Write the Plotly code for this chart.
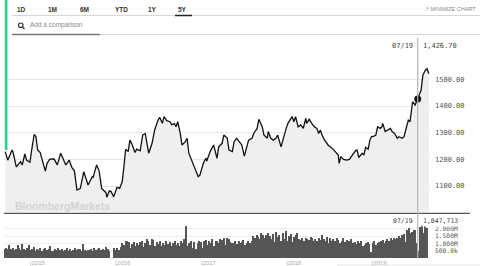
import pandas as pd
import plotly.graph_objects as go

# ---------------- data ----------------
price_years = [
    2014.71, 2014.74, 2014.79, 2014.80, 2014.84, 2014.86, 2014.89, 2014.91, 2014.94, 2014.96,
    2015.00, 2015.02, 2015.05, 2015.07, 2015.09, 2015.12, 2015.14, 2015.18, 2015.20, 2015.23,
    2015.28, 2015.32, 2015.36, 2015.39, 2015.42, 2015.46, 2015.49, 2015.52, 2015.55, 2015.59,
    2015.63, 2015.68, 2015.73, 2015.74, 2015.78, 2015.81, 2015.84, 2015.89, 2015.90, 2015.93,
    2015.95, 2015.98, 2016.02, 2016.05, 2016.08, 2016.10, 2016.12, 2016.15, 2016.17, 2016.19,
    2016.23, 2016.25, 2016.29, 2016.32, 2016.35, 2016.37, 2016.39, 2016.43, 2016.46, 2016.50,
    2016.52, 2016.55, 2016.57, 2016.60, 2016.64, 2016.66, 2016.69, 2016.71, 2016.73, 2016.76,
    2016.78, 2016.82, 2016.84, 2016.86, 2016.90, 2016.93, 2016.97, 2016.99, 2017.03, 2017.06,
    2017.07, 2017.11, 2017.14, 2017.15, 2017.19, 2017.21, 2017.25, 2017.27, 2017.31, 2017.33,
    2017.37, 2017.39, 2017.42, 2017.45, 2017.48, 2017.51, 2017.54, 2017.56, 2017.60, 2017.62,
    2017.66, 2017.68, 2017.72, 2017.74, 2017.78, 2017.79, 2017.82, 2017.85, 2017.88, 2017.90,
    2017.94, 2017.96, 2018.00, 2018.02, 2018.07, 2018.09, 2018.11, 2018.14, 2018.17, 2018.20,
    2018.23, 2018.24, 2018.27, 2018.30, 2018.33, 2018.36, 2018.38, 2018.40, 2018.42, 2018.45,
    2018.49, 2018.54, 2018.57, 2018.61, 2018.62, 2018.64, 2018.67, 2018.71, 2018.74, 2018.77,
    2018.81, 2018.83, 2018.85, 2018.89, 2018.91, 2018.93, 2018.96, 2018.98, 2019.00, 2019.03,
    2019.05, 2019.07, 2019.10, 2019.12, 2019.13, 2019.16, 2019.19, 2019.22, 2019.24, 2019.27,
    2019.30, 2019.32, 2019.36, 2019.38, 2019.40, 2019.43, 2019.45, 2019.47, 2019.48, 2019.51,
    2019.53, 2019.54, 2019.58, 2019.60, 2019.63, 2019.65, 2019.67,
]
price_values = [
    1229, 1197, 1235, 1229, 1172, 1179, 1191, 1179, 1220, 1197,
    1189, 1235, 1294, 1285, 1235, 1225, 1204, 1156, 1185, 1200,
    1202, 1179, 1223, 1197, 1179, 1197, 1170, 1157, 1085, 1091,
    1154, 1104, 1135, 1133, 1179, 1156, 1091, 1075, 1058, 1082,
    1079, 1060, 1095, 1091, 1116, 1172, 1238, 1229, 1272, 1260,
    1226, 1238, 1232, 1291, 1297, 1260, 1223, 1260, 1310, 1347,
    1357, 1335, 1360, 1345, 1341, 1329, 1335, 1322, 1341, 1297,
    1254, 1266, 1279, 1223, 1191, 1172, 1135, 1141, 1185, 1204,
    1194, 1229, 1245, 1254, 1204, 1247, 1260, 1291, 1279, 1235,
    1229, 1266, 1279, 1266, 1254, 1212, 1247, 1272, 1279, 1297,
    1316, 1350, 1322, 1291, 1279, 1304, 1279, 1272, 1279, 1291,
    1247, 1272, 1316, 1335, 1360, 1341, 1360, 1322, 1329, 1316,
    1354, 1335, 1350, 1335, 1322, 1316, 1297, 1310, 1291, 1272,
    1254, 1241, 1229, 1216, 1185, 1210, 1200, 1197, 1200, 1216,
    1232, 1235, 1207, 1223, 1216, 1245, 1238, 1272, 1285, 1287,
    1291, 1322, 1316, 1322, 1335, 1304, 1310, 1316, 1304, 1297,
    1279, 1285, 1279, 1285, 1310, 1347, 1341, 1391, 1416, 1404,
    1423, 1426.7, 1460, 1515, 1534, 1540, 1521,
]

volume_start = "2014-09-14"
volume_k = [
    620, 700, 650, 880, 600, 720, 560, 640, 910, 700,
    580, 960, 640, 520, 700, 900, 560, 650, 750, 480,
    600, 520, 720, 480, 650, 700, 540, 600, 820, 500,
    460, 620, 540, 700, 520, 600, 480, 560, 680, 500,
    620, 480, 560, 700, 520, 600, 640, 480, 960, 560,
    500, 580, 520, 620, 480, 660, 540, 600, 700, 520,
    600, 560, 740, 620, 480, 0, 0, 660, 520, 700,
    560, 780, 1050, 900, 1150, 1200, 1080, 700, 950, 1100,
    800, 1050, 900, 1100, 1200, 750, 1000, 1300, 1150, 900,
    1300, 1250, 850, 1100, 950, 1200, 800, 1000, 900, 1150,
    950, 1100, 850, 1000, 1200, 900, 1050, 800, 1150, 1000,
    1300, 2200, 800, 1050, 1150, 700, 1100, 650, 1000, 1150,
    1100, 700, 1150, 1250, 900, 1200, 1050, 1300, 800, 1150,
    1200, 1000, 1300, 1250, 1350, 900, 1400, 1300, 1100, 1000,
    1050, 1150, 950, 1200, 1000, 1100, 1250, 900, 1050, 1150,
    1000, 1200, 1500, 1400, 1600, 1450, 1300, 1700, 1550, 1400,
    1600, 1750, 1500, 1300, 1650, 1100, 1800, 1450, 1600, 1200,
    1700, 1300, 1850, 1200, 1500, 1650, 1100, 1450, 1600, 1750,
    1300, 1250, 1350, 1200, 1400, 1300, 1250, 1450, 1350, 1200,
    1300, 1150, 1400, 1250, 1550, 1300, 1200, 1450, 1000, 1350,
    1200, 1300, 1150, 1400, 1250, 1050, 1200, 1350, 1100, 1250,
    1150, 1200, 1300, 1000, 1100, 950, 1150, 1050, 1200, 800,
    900, 1050, 1100, 950, 400, 1000, 1150, 900, 1050, 1100,
    1150, 1250, 1050, 1200, 1300, 1150, 1350, 1250, 1400, 1300,
    1400, 1500, 1350, 1550, 1650, 1100, 1900, 2100, 1700, 1800,
    1950, 1900, 1050, 450, 2150, 2250, 1700, 2300, 2100,
]

year_ticks = ["2015-01-01", "2016-01-01", "2017-01-01", "2018-01-01", "2019-01-01"]
year_labels = ["|2015", "|2016", "|2017", "|2018", "|2019"]
price_ticks = [1100, 1200, 1300, 1400, 1500]
volume_ticks = [500000, 1000000, 1500000, 2000000]
volume_tick_labels = ["500.0k", "1.000M", "1.500M", "2.000M"]
tabs = ["1D", "1M", "6M", "YTD", "1Y", "5Y"]
hover_label = "07/19"
hover_year = 2019.54
hover_price = 1426.70
hover_volume = 1047713

# ---------------- helpers ----------------
W, H = 480, 266


def px(x):
    return x / W


def py(y):
    return 1 - y / H


def yr2date(y):
    return pd.Timestamp("2015-01-01") + pd.Timedelta(days=(y - 2015) * 365.25)


price_dates = [yr2date(v) for v in price_years]
vol_dates = pd.date_range(volume_start, periods=len(volume_k), freq="7D")
vol_values = [v * 1000 for v in volume_k]
hover_date = yr2date(hover_year)

MONO = "DejaVu Sans Mono"
SANS = "Liberation Sans"

fig = go.Figure()

fig.add_trace(go.Scatter(
    x=price_dates, y=price_values, mode="lines",
    line=dict(color="#111111", width=1.3),
    fill="tozeroy", fillcolor="#efefef",
    xaxis="x", yaxis="y", hoverinfo="skip", showlegend=False,
))
fig.add_trace(go.Scatter(
    x=[hover_date], y=[hover_price], mode="markers",
    marker=dict(color="#111111", size=7),
    xaxis="x", yaxis="y", hoverinfo="skip", showlegend=False,
))
fig.add_trace(go.Bar(
    x=vol_dates, y=vol_values, marker=dict(color="#555555", line=dict(width=0)),
    width=4.6 * 86400000,
    xaxis="x2", yaxis="y2", hoverinfo="skip", showlegend=False,
))

xr = [yr2date(2014.696), yr2date(2019.684)]

fig.update_layout(
    width=W, height=H,
    margin=dict(l=0, r=0, t=0, b=0),
    paper_bgcolor="white", plot_bgcolor="rgba(0,0,0,0)",
    bargap=0,
    xaxis=dict(domain=[px(4), px(430)], range=xr, showgrid=False, showticklabels=False,
               zeroline=False, showline=False, ticks=""),
    yaxis=dict(domain=[py(212), py(37)], range=[1002.5, 1658.75], side="right",
               tickvals=price_ticks, tickformat=".2f", showgrid=True, gridcolor="#e6e6e6",
               gridwidth=1, zeroline=False, ticks="", ticklabelstandoff=4,
               tickfont=dict(family=MONO, size=7, color="#555555")),
    xaxis2=dict(domain=[px(4), px(430)], range=xr, matches="x", showgrid=False,
                tickvals=year_ticks, ticktext=year_labels, ticks="",
                ticklabelposition="outside right", ticklabelstandoff=0,
                tickfont=dict(family=SANS, size=6, color="#aaaaaa"),
                zeroline=False, showline=False, anchor="y2"),
    yaxis2=dict(domain=[py(258), py(214)], range=[0, 3.03e6], side="right",
                tickvals=volume_ticks, ticktext=volume_tick_labels, showgrid=True,
                gridcolor="#eeeeee", zeroline=False, ticks="", ticklabelstandoff=4,
                tickfont=dict(family=MONO, size=6.3, color="#555555"), anchor="x2"),
)

shapes = []
# left green marker
shapes.append(dict(type="rect", xref="paper", yref="paper", x0=px(4.8), x1=px(7.4),
                   y0=py(150), y1=py(0), fillcolor="#21d08c", line=dict(width=0), layer="above"))
# tab row line + active underline
shapes.append(dict(type="line", xref="paper", yref="paper", x0=px(12), x1=px(480),
                   y0=py(15.5), y1=py(15.5), line=dict(color="#d6d6d6", width=1)))
shapes.append(dict(type="line", xref="paper", yref="paper", x0=px(175), x1=px(192),
                   y0=py(15.5), y1=py(15.5), line=dict(color="#222222", width=1.5)))
# comparison row line
shapes.append(dict(type="line", xref="paper", yref="paper", x0=px(12), x1=px(480),
                   y0=py(34.5), y1=py(34.5), line=dict(color="#dddddd", width=1)))
shapes.append(dict(type="line", xref="paper", yref="paper", x0=px(12), x1=px(100),
                   y0=py(34.5), y1=py(34.5), line=dict(color="#777777", width=1.6)))
# magnifier icon
shapes.append(dict(type="circle", xref="paper", yref="paper", x0=px(18.5), x1=px(23),
                   y0=py(27.5), y1=py(23), line=dict(color="#333333", width=1.2)))
shapes.append(dict(type="line", xref="paper", yref="paper", x0=px(22.5), x1=px(24.5),
                   y0=py(27), y1=py(29), line=dict(color="#333333", width=1.2)))
# separator between price and volume
shapes.append(dict(type="line", xref="paper", yref="paper", x0=px(4), x1=px(470),
                   y0=py(213.3), y1=py(213.3), line=dict(color="#555555", width=1.2), layer="above"))
# bottom faint line
shapes.append(dict(type="line", xref="paper", yref="paper", x0=px(337), x1=px(480),
                   y0=py(265), y1=py(265), line=dict(color="#e6e6e6", width=1)))
# crosshair
shapes.append(dict(type="line", xref="x", yref="paper", x0=hover_date, x1=hover_date,
                   y0=py(258), y1=py(38), line=dict(color="#b5b5b5", width=1.2), layer="above"))
fig.update_layout(shapes=shapes)

ann = []
tab_x = [21, 52, 84, 121, 152, 182]
for t, xx in zip(tabs, tab_x):
    ann.append(dict(text=f"<b>{t}</b>", x=px(xx), y=py(9), xref="paper", yref="paper",
                    showarrow=False, xanchor="center", yanchor="middle",
                    font=dict(family=SANS, size=6.5, color="#333333")))
ann.append(dict(text="↗ MINIMIZE CHART", x=px(478), y=py(9), xref="paper", yref="paper",
                showarrow=False, xanchor="right", yanchor="middle",
                font=dict(family=SANS, size=5.5, color="#888888")))
ann.append(dict(text="Add a comparison", x=px(28), y=py(25), xref="paper", yref="paper",
                showarrow=False, xanchor="left", yanchor="middle",
                font=dict(family=SANS, size=6.5, color="#8a8a8a")))
ann.append(dict(text="<b>BloombergMarkets</b>", x=px(13), y=py(205.5), xref="paper", yref="paper",
                showarrow=False, xanchor="left", yanchor="middle",
                font=dict(family=SANS, size=10.5, color="#d3d3d3")))
# hover labels
ann.append(dict(text=hover_label, x=hover_date, y=py(46), xref="x", yref="paper", xshift=-3,
                showarrow=False, xanchor="right", yanchor="middle", bgcolor="white",
                font=dict(family=MONO, size=7, color="#444444")))
ann.append(dict(text=f"{hover_price:,.2f}", x=hover_date, y=py(46), xref="x", yref="paper", xshift=3,
                showarrow=False, xanchor="left", yanchor="middle", bgcolor="white",
                font=dict(family=MONO, size=7, color="#444444")))
ann.append(dict(text=hover_label, x=hover_date, y=py(221.2), xref="x", yref="paper", xshift=-3,
                showarrow=False, xanchor="right", yanchor="middle", bgcolor="white",
                font=dict(family=MONO, size=6.5, color="#444444")))
ann.append(dict(text=f"{hover_volume:,}", x=hover_date, y=py(221.2), xref="x", yref="paper", xshift=3,
                showarrow=False, xanchor="left", yanchor="middle", bgcolor="white",
                font=dict(family=MONO, size=6.5, color="#444444")))
fig.update_layout(annotations=ann)

fig.write_html("out.html")
